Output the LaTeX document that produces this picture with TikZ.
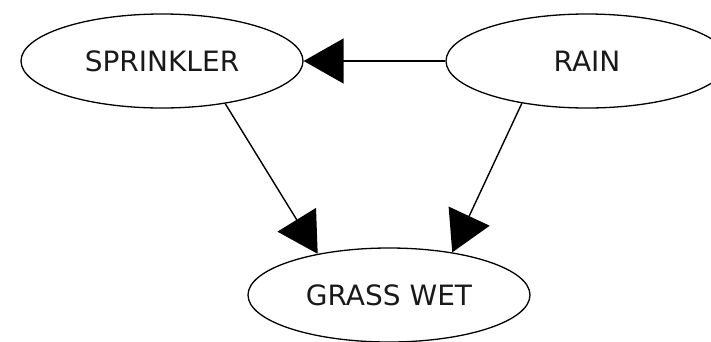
\documentclass[tikz,border=0pt]{standalone}
\usepackage{fontspec}
\setmainfont{DejaVu Sans}
\usetikzlibrary{shapes.geometric,arrows.meta}
\begin{document}
\begin{tikzpicture}[x=1pt,y=-1pt,
  var/.style={draw=black,line width=1.3pt,ellipse,minimum width=282pt,minimum height=94pt,inner sep=0pt,
    font=\fontsize{28}{30}\selectfont,text=black!90},
  edge/.style={draw=black,line width=1.4pt,-{Triangle[length=40pt,width=45pt]}}]
\useasboundingbox (0,0) rectangle (711,341);
\node[var] (sprinkler) at (162,61) {SPRINKLER};
\node[var] (rain) at (587,61) {RAIN};
\node[var] (grass) at (389,295) {GRASS WET};
\draw[edge] (rain.west) -- (sprinkler.east);
\draw[edge] (sprinkler.326) -- (grass.150);
\draw[edge] (rain.213) -- (grass.34);
\end{tikzpicture}
\end{document}
